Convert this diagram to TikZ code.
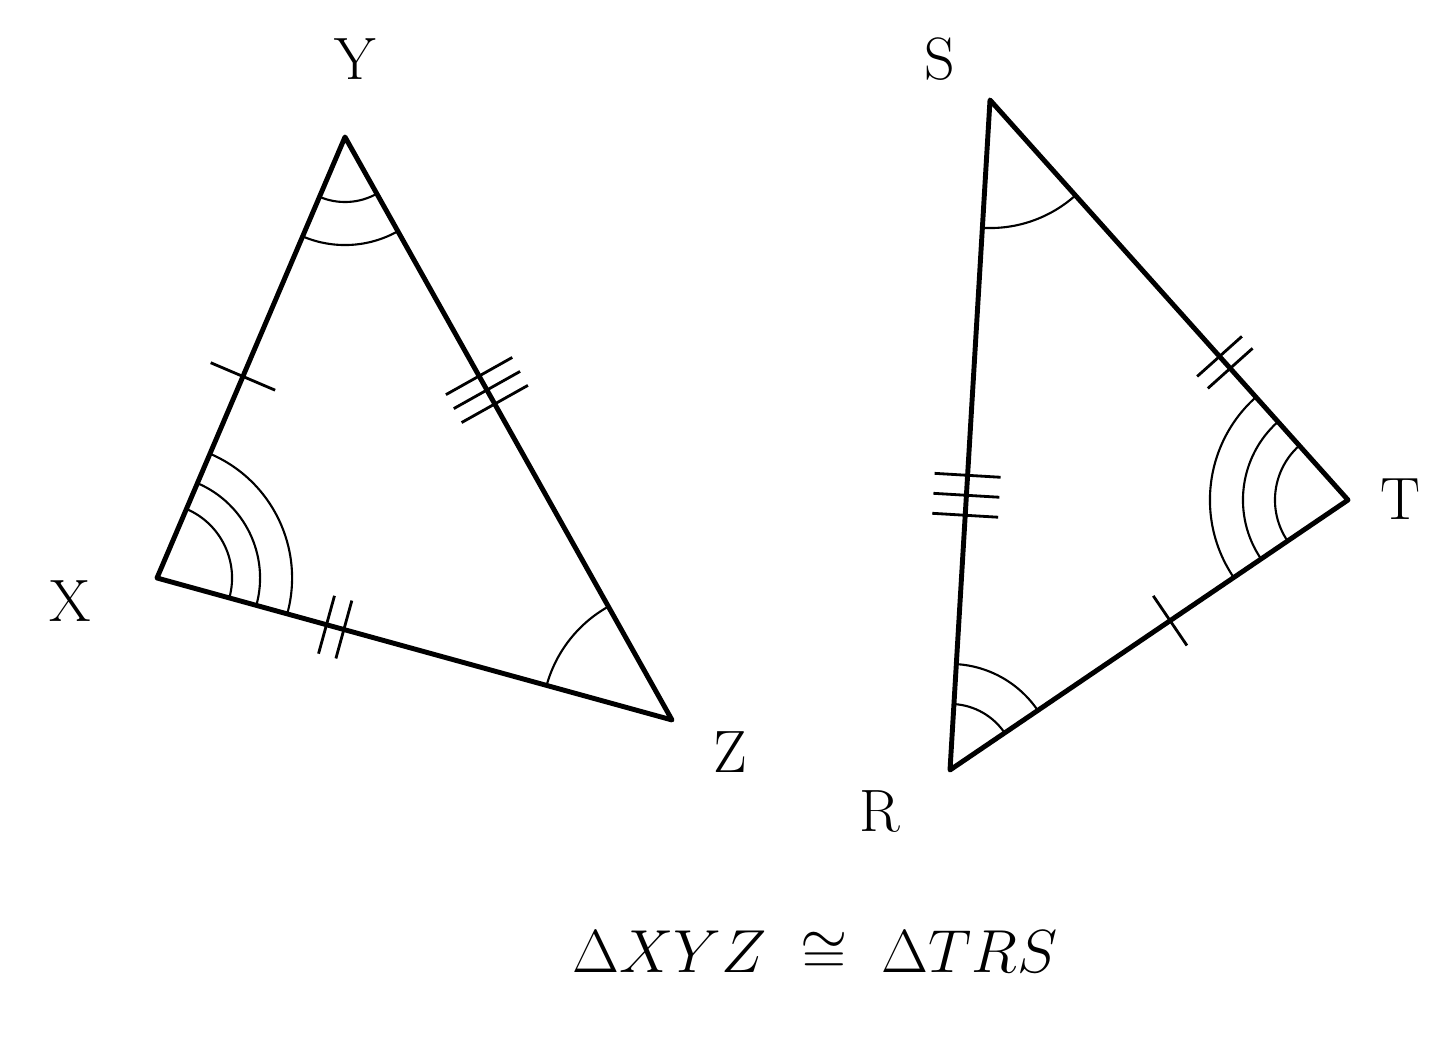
\documentclass[tikz,border=0pt]{standalone}
\usetikzlibrary{calc,angles}

\begin{document}
\begin{tikzpicture}[x=0.01cm, y=0.01cm,
  side/.style={line width=1.4pt, line join=round},
  hashmark/.style={line width=0.8pt},
  anglemark/.style={draw, line width=0.6pt},
  vlabel/.style={anchor=base, font=\fontsize{17}{20}\selectfont}]
\useasboundingbox (0,0) rectangle (1440,1049);
% vertices
\coordinate (X) at (157,471);
\coordinate (Y) at (345,912);
\coordinate (Z) at (672,329);
\coordinate (S) at (990,949);
\coordinate (T) at (1348,549);
\coordinate (R) at (950,279);

% triangles
\draw[side] (X) -- (Y) -- (Z) -- cycle;
\draw[side] (R) -- (S) -- (T) -- cycle;

% angle arcs
\foreach \r in {0.75,1.03,1.35} \pic[anglemark, angle radius=\r cm] {angle = Z--X--Y};
\foreach \r in {0.65,1.08} \pic[anglemark, angle radius=\r cm] {angle = X--Y--Z};
\pic[anglemark, angle radius=1.3cm] {angle = Y--Z--X};
\pic[anglemark, angle radius=1.28cm] {angle = R--S--T};
\foreach \r in {0.73,1.05,1.38} \pic[anglemark, angle radius=\r cm] {angle = S--T--R};
\foreach \r in {0.66,1.06} \pic[anglemark, angle radius=\r cm] {angle = T--R--S};

% hash marks on the sides
\draw[hashmark] ($(X)!0.457!(Y)!0.35cm!90:(Y)$) -- ($(X)!0.457!(Y)!0.35cm!-90:(Y)$);
\foreach \d in {-0.16,0,0.16}
  \draw[hashmark] ($(Y)!0.434!(Z)!\d cm!(Z)!0.38cm!90:(Z)$) -- ($(Y)!0.434!(Z)!\d cm!(Z)!0.38cm!-90:(Z)$);
\foreach \d in {-0.09,0.09}
  \draw[hashmark] ($(X)!0.346!(Z)!\d cm!(Z)!0.3cm!90:(Z)$) -- ($(X)!0.346!(Z)!\d cm!(Z)!0.3cm!-90:(Z)$);
\foreach \d in {-0.08,0.08}
  \draw[hashmark] ($(S)!0.656!(T)!\d cm!(T)!0.3cm!90:(T)$) -- ($(S)!0.656!(T)!\d cm!(T)!0.3cm!-90:(T)$);
\foreach \d in {-0.2,0,0.2}
  \draw[hashmark] ($(R)!0.41!(S)!\d cm!(S)!0.33cm!90:(S)$) -- ($(R)!0.41!(S)!\d cm!(S)!0.33cm!-90:(S)$);
\draw[hashmark] ($(R)!0.553!(T)!0.3cm!90:(T)$) -- ($(R)!0.553!(T)!0.3cm!-90:(T)$);

% vertex labels
\node (labelY) [vlabel] at (355,969) {Y};
\node (labelX) [vlabel] at (70,427) {X};
\node (labelZ) [vlabel] at (730,276) {Z};
\node (labelS) [vlabel] at (940,969) {S};
\node (labelT) [vlabel] at (1400,529) {T};
\node (labelR) [vlabel] at (880,217) {R};

% statement
\node (congruence) [anchor=base, font=\fontsize{17}{20}\selectfont] at (815,76) {$\Delta XYZ \;\cong\; \Delta TRS$};
\end{tikzpicture}
\end{document}
